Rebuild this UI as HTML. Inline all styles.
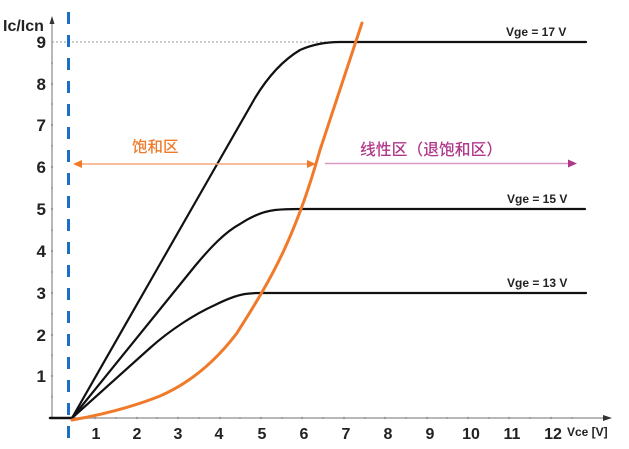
<!DOCTYPE html>
<html><head><meta charset="utf-8"><style>
html,body{margin:0;padding:0;background:#fff;}
svg{display:block;}
</style></head><body>
<svg width="629" height="449" viewBox="0 0 629 449" xmlns="http://www.w3.org/2000/svg">
<rect width="629" height="449" fill="#fff"/>
<!-- axes -->
<line x1="52" y1="418" x2="52" y2="22" stroke="#a0a0a0" stroke-width="1.5"/>
<polygon points="52,16 49.5,24 54.5,24" fill="#333"/>
<line x1="52" y1="418" x2="606" y2="418" stroke="#a0a0a0" stroke-width="1.5"/>
<polygon points="612,418 603,415 603,421" fill="#333"/>
<!-- minor ticks -->
<g fill="#999">
<circle cx="52" cy="397" r="1"/><circle cx="52" cy="355" r="1"/><circle cx="52" cy="314" r="1"/><circle cx="52" cy="272" r="1"/><circle cx="52" cy="230" r="1"/><circle cx="52" cy="188" r="1"/><circle cx="52" cy="146" r="1"/><circle cx="52" cy="104" r="1"/><circle cx="52" cy="63" r="1"/>
<circle cx="52" cy="376" r="1.2"/><circle cx="52" cy="335" r="1.2"/><circle cx="52" cy="293" r="1.2"/><circle cx="52" cy="251" r="1.2"/><circle cx="52" cy="209" r="1.2"/><circle cx="52" cy="167" r="1.2"/><circle cx="52" cy="125" r="1.2"/><circle cx="52" cy="84" r="1.2"/>
<circle cx="75" cy="418" r="1"/><circle cx="95" cy="418" r="1.2"/><circle cx="116" cy="418" r="1"/><circle cx="137" cy="418" r="1.2"/><circle cx="157" cy="418" r="1"/><circle cx="178" cy="418" r="1.2"/><circle cx="199" cy="418" r="1"/><circle cx="220" cy="418" r="1.2"/><circle cx="240" cy="418" r="1"/><circle cx="261" cy="418" r="1.2"/><circle cx="282" cy="418" r="1"/><circle cx="302" cy="418" r="1.2"/><circle cx="323" cy="418" r="1"/><circle cx="344" cy="418" r="1.2"/><circle cx="365" cy="418" r="1"/><circle cx="385" cy="418" r="1.2"/><circle cx="406" cy="418" r="1"/><circle cx="427" cy="418" r="1.2"/><circle cx="447" cy="418" r="1"/><circle cx="468" cy="418" r="1.2"/><circle cx="489" cy="418" r="1"/><circle cx="509" cy="418" r="1.2"/><circle cx="530" cy="418" r="1"/><circle cx="551" cy="418" r="1.2"/><circle cx="572" cy="418" r="1"/>
</g>
<!-- gray dotted 9 line -->
<line x1="52" y1="42" x2="340" y2="42" stroke="#999" stroke-width="1" stroke-dasharray="2,2"/>
<!-- y labels -->
<g font-family="Liberation Sans, sans-serif" font-weight="bold" font-size="17" fill="#222" text-anchor="end">
<text x="46" y="48">9</text>
<text x="46" y="90">8</text>
<text x="46" y="131">7</text>
<text x="46" y="173">6</text>
<text x="46" y="215">5</text>
<text x="46" y="257">4</text>
<text x="46" y="299">3</text>
<text x="46" y="341">2</text>
<text x="46" y="382">1</text>
</g>
<text x="3" y="31" font-family="Liberation Sans, sans-serif" font-weight="bold" font-size="16" fill="#222">Ic/Icn</text>
<!-- x labels -->
<g font-family="Liberation Sans, sans-serif" font-weight="bold" font-size="16" fill="#222" text-anchor="middle">
<text x="96" y="439">1</text>
<text x="137" y="439">2</text>
<text x="178" y="439">3</text>
<text x="219" y="439">4</text>
<text x="262" y="439">5</text>
<text x="304" y="439">6</text>
<text x="346" y="439">7</text>
<text x="388" y="439">8</text>
<text x="430" y="439">9</text>
<text x="471" y="439">10</text>
<text x="512" y="439">11</text>
<text x="553" y="439">12</text>
</g>
<text x="567" y="436" font-family="Liberation Sans, sans-serif" font-weight="bold" font-size="12" fill="#222">Vce [V]</text>
<!-- blue dashed -->
<line x1="68.5" y1="12" x2="68.5" y2="446" stroke="#1b6fc6" stroke-width="3" stroke-dasharray="12,11"/>
<!-- black curves -->
<g fill="none" stroke="#111" stroke-width="2.2" stroke-linejoin="round" stroke-linecap="round">
<line x1="50" y1="418" x2="72" y2="418" stroke-width="2.5"/>
<path d="M72,418 L160,264 C190,212 225,150 255,98 Q275,65 300,50 Q318,42 340,42 L586,42"/>
<path d="M72,418 L195,266 C210,248 225,232 240,224 Q258,212 275,210 Q285,209 300,209 L585,209"/>
<path d="M72,418 L150,348 C170,330 195,314 215,305 Q233,296 245,294 Q252,293 260,293 L586,293"/>
</g>
<!-- orange curve -->
<path d="M72,420 C100,415 130,408 160,396 C190,383 215,362 237,333 C250,312 268,285 285,248 C300,215 310,185 320,150 L362,23" fill="none" stroke="#f07a2a" stroke-width="3" stroke-linecap="round" stroke-linejoin="round"/>
<!-- arrows -->
<line x1="78" y1="164" x2="310" y2="164" stroke="#f5a97a" stroke-width="1.5"/>
<polygon points="73,164 82,160 82,168" fill="#f07a2a"/>
<polygon points="316,164 307,160 307,168" fill="#f07a2a"/>
<text x="132" y="152" font-family="Liberation Sans, Noto Sans CJK SC, sans-serif" font-size="15.5" font-weight="500" fill="#f07a2a">饱和区</text>
<line x1="325" y1="163.5" x2="570" y2="163.5" stroke="#d89ac4" stroke-width="1.5"/>
<polygon points="577,163.5 568,159.5 568,167.5" fill="#b0388a"/>
<text x="360" y="155" font-family="Liberation Sans, Noto Sans CJK SC, sans-serif" font-size="15.8" font-weight="500" fill="#b0388a">线性区（退饱和区）</text>
<!-- Vge labels -->
<g font-family="Liberation Sans, sans-serif" font-weight="bold" font-size="12" fill="#222">
<text x="506" y="36">Vge = 17 V</text>
<text x="507" y="203">Vge = 15 V</text>
<text x="507" y="287">Vge = 13 V</text>
</g>
</svg>
</body></html>
